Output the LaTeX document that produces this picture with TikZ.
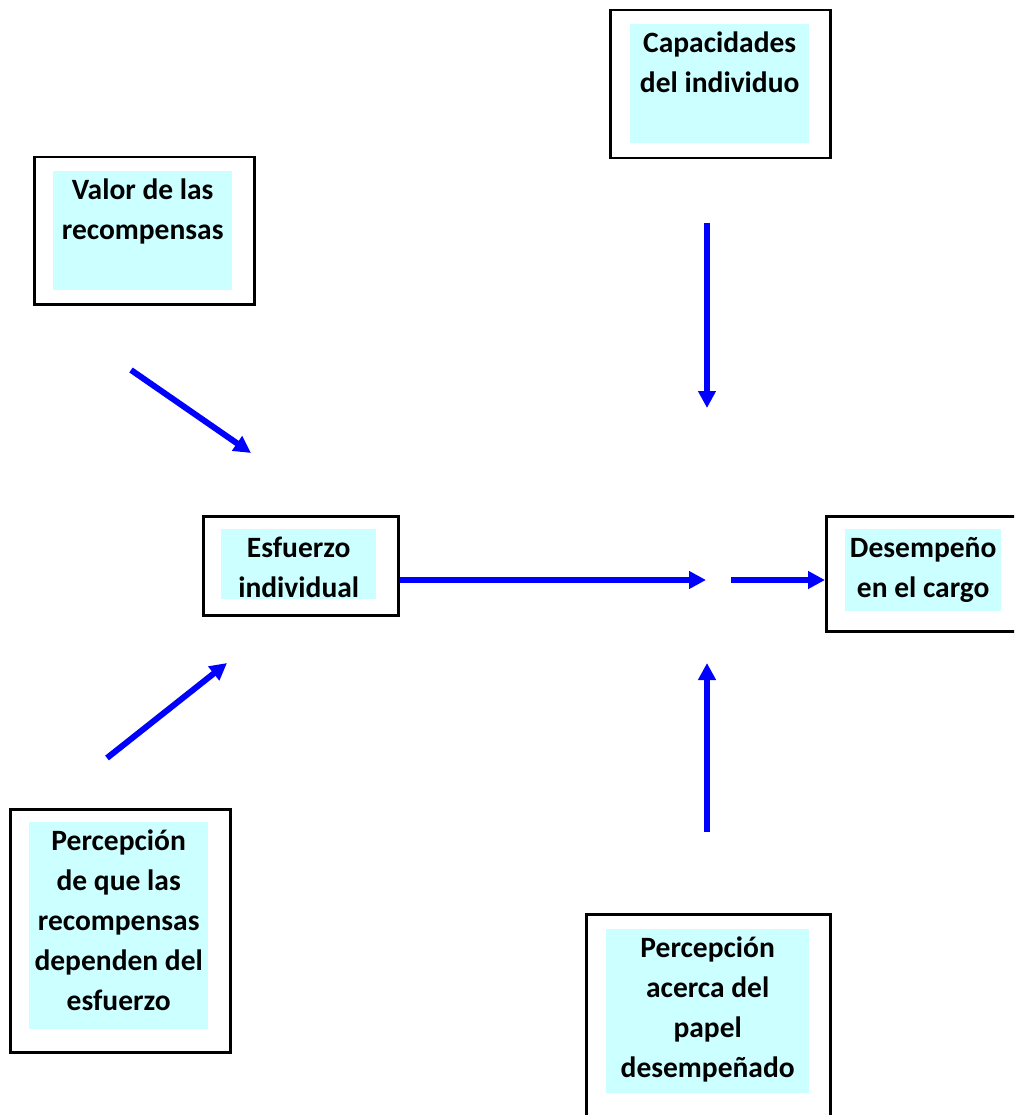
\documentclass[tikz,border=0pt]{standalone}
\usepackage{fontspec}
\setmainfont{Carlito}
\usetikzlibrary{positioning,arrows.meta}
\definecolor{celeste}{RGB}{204,255,255}
\definecolor{azul}{RGB}{0,0,255}
\tikzset{
  marco/.style={draw, line width=2.5pt, inner sep=0pt, anchor=north west},
  fondo/.style={fill=celeste, inner sep=0pt, anchor=north west},
  texto/.style={font=\fontsize{29.5}{40}\selectfont\bfseries, align=center,
    inner sep=0pt, anchor=north, yshift=-8pt,
    execute at begin node=\strut, execute at end node=\strut},
  flecha/.style={draw=azul, line width=6pt, -{Triangle[length=17pt,width=17pt]}}
}

\begin{document}
\begin{tikzpicture}[x=1pt, y=-1pt]

		\useasboundingbox (0,0) rectangle (1014,1115);
		\clip (0,0) rectangle (1014,1115);

		%the boxes
		\node[marco, minimum width=220pt, minimum height=148pt] (capMarco) at (609,9) {};
		\node[fondo, minimum width=179pt, minimum height=119pt] (capFondo) at (630,24) {};
		\node[texto] (cap) at (capFondo.north) {Capacidades\\del individuo};

		\node[marco, minimum width=220pt, minimum height=147pt] (valMarco) at (33,156) {};
		\node[fondo, minimum width=179pt, minimum height=119pt] (valFondo) at (53,171) {};
		\node[texto] (val) at (valFondo.north) {Valor de las\\recompensas};

		\node[marco, minimum width=195pt, minimum height=99pt] (esfMarco) at (202,515) {};
		\node[fondo, minimum width=155pt, minimum height=70pt] (esfFondo) at (221,529) {};
		\node[texto] (esf) at (esfFondo.north) {Esfuerzo\\individual};

		\node[marco, minimum width=215pt, minimum height=115pt] (desMarco) at (825,515) {};
		\node[fondo, minimum width=156pt, minimum height=82pt] (desFondo) at (845,529) {};
		\node[texto] (des) at (desFondo.north) {Desempeño\\en el cargo};

		\node[marco, minimum width=220pt, minimum height=243pt] (perMarco) at (9,808) {};
		\node[fondo, minimum width=179pt, minimum height=207pt] (perFondo) at (29,822) {};
		\node[texto] (per) at (perFondo.north) {Percepción\\de que las\\recompensas\\dependen del\\esfuerzo};

		\node[marco, minimum width=244pt, minimum height=220pt] (rolMarco) at (585,913) {};
		\node[fondo, minimum width=203pt, minimum height=164pt] (rolFondo) at (606,929) {};
		\node[texto] (rol) at (rolFondo.north) {Percepción\\acerca del\\papel\\desempeñado};

		%free ends of the arrows
		\coordinate (capIni) at (707,223);
		\coordinate (capFin) at (707,408);
		\coordinate (valIni) at (131,370);
		\coordinate (valFin) at (251,453);
		\coordinate (cruce) at (706,580);
		\coordinate (desIni) at (731,580);
		\coordinate (perIni) at (107,758);
		\coordinate (perFin) at (227,663);
		\coordinate (rolIni) at (707,832);
		\coordinate (rolFin) at (707,663);

		%the arrows
		\draw[flecha] (capIni) -- (capFin);
		\draw[flecha] (valIni) -- (valFin);
		\draw[flecha] (esfMarco.east |- cruce) -- (cruce);
		\draw[flecha] (desIni) -- (desMarco.west |- desIni);
		\draw[flecha] (perIni) -- (perFin);
		\draw[flecha] (rolIni) -- (rolFin);

\end{tikzpicture}
\end{document}
